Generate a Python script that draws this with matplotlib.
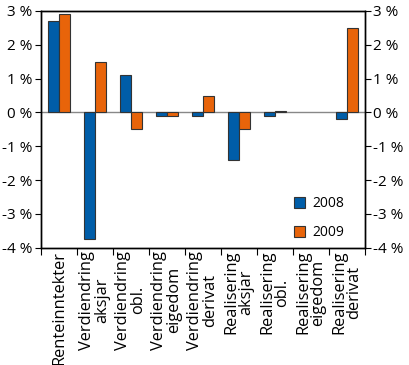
import matplotlib
matplotlib.use("Agg")
import matplotlib.pyplot as plt
import numpy as np

categories = ["Renteinntekter", "Verdiendring\naksjar", "Verdiendring\nobl.",
              "Verdiendring\neigedom", "Verdiendring\nderivat", "Realisering\naksjar",
              "Realisering\nobl.", "Realisering\neigedom", "Realisering\nderivat"]
v2008 = [2.7, -3.75, 1.1, -0.1, -0.1, -1.4, -0.1, 0.0, -0.2]
v2009 = [2.9, 1.5, -0.5, -0.1, 0.5, -0.5, 0.05, 0.0, 2.5]
yticks = [-4, -3, -2, -1, 0, 1, 2, 3]
ytick_labels = ["-4 %", "-3 %", "-2 %", "-1 %", "0 %", "1 %", "2 %", "3 %"]

plt.rcParams['font.family'] = ['Open Sans', 'DejaVu Sans']
fig = plt.figure(figsize=(4.09, 3.65), dpi=100)
ax = fig.add_axes([0.100, 0.321, 0.792, 0.649])

x = np.arange(len(categories))
w = 0.3
blue = "#005DA8"
orange = "#E8640A"
lw2008 = [0.8 if v != 0 else 0 for v in v2008]
lw2009 = [0.8 if v != 0 else 0 for v in v2009]
ax.bar(x - w/2, v2008, w, color=blue, edgecolor="#333333", linewidth=lw2008, label="2008", zorder=3)
ax.bar(x + w/2, v2009, w, color=orange, edgecolor="#333333", linewidth=lw2009, label="2009", zorder=3)
ax.axhline(0, color="#888888", linewidth=1.0, zorder=2)

ax.set_xlim(-0.5, len(categories) - 0.5)
ax.set_ylim(-4, 3)
ax.set_yticks(yticks)
ax.set_yticklabels(ytick_labels, fontsize=11)
ax.set_xticks(np.arange(len(categories) + 1) - 0.5)
ax.set_xticklabels([])
ax.set_xticks(x, minor=True)
ax.set_xticklabels(categories, minor=True, rotation=90, fontsize=11.8,
                   ha="center", va="top", multialignment="center", linespacing=0.95)
ax.tick_params(axis="x", which="minor", length=0, pad=2)
ax.tick_params(axis="x", which="major", length=5, direction="out")
ax.tick_params(axis="y", length=4, direction="out", pad=2)

ax2 = ax.twinx()
ax2.set_ylim(-4, 3)
ax2.set_yticks(yticks)
ax2.set_yticklabels(ytick_labels, fontsize=11)
ax2.tick_params(axis="y", length=4, direction="out", pad=2)

for a in (ax, ax2):
    for s in a.spines.values():
        s.set_linewidth(1.0)
        s.set_color("black")

ax.legend(loc="lower right", frameon=False, fontsize=10, handlelength=0.8,
          handleheight=0.8, handletextpad=0.5, labelspacing=1.0,
          bbox_to_anchor=(0.975, -0.02))

fig.savefig("out.png", dpi=100)
